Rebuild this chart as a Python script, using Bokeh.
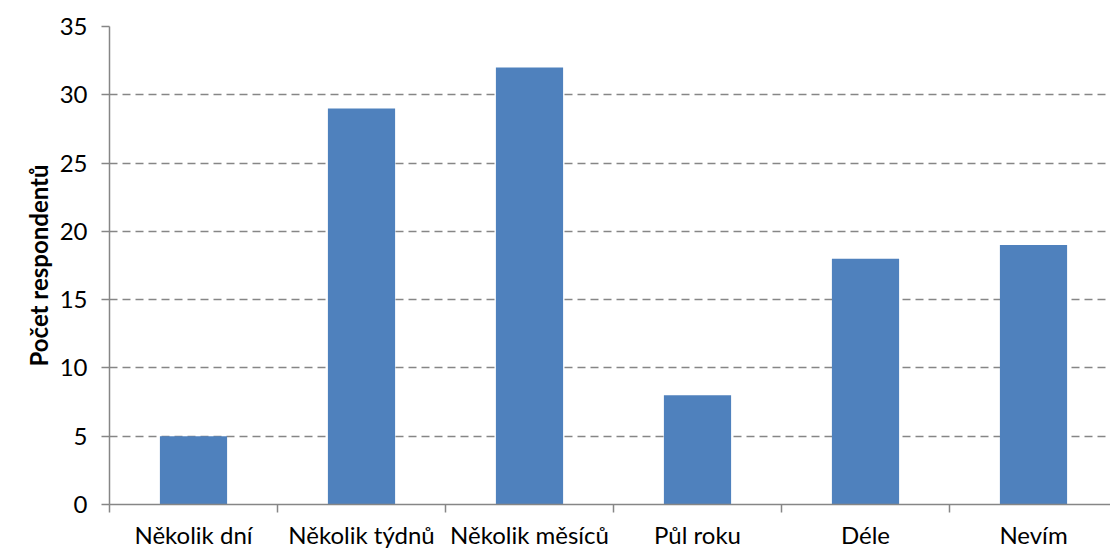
from bokeh.plotting import figure
from bokeh.models import Range1d, FixedTicker, ColumnDataSource, Title
from bokeh.embed import file_html
from bokeh.resources import INLINE

categories = ["Několik dní", "Několik týdnů", "Několik měsíců", "Půl roku", "Déle", "Nevím"]
values = [5, 29, 32, 8, 18, 19]
y_ticks = [0, 5, 10, 15, 20, 25, 30, 35]
y_title = "Počet respondentů"

xs = [i + 0.5 for i in range(len(categories))]
src = ColumnDataSource(dict(x=xs, top=values, cat=categories))

FONT = "Lato"
GRAY = "#868686"

p = figure(width=1110, height=551, output_backend="svg", toolbar_location=None,
           x_range=Range1d(0, 1001 / 168), y_range=Range1d(0, 35),
           min_border_left=109, min_border_top=26, min_border_bottom=47, min_border_right=0)
p.outline_line_color = None
p.background_fill_color = "white"

p.vbar(x="x", top="top", width=0.4, bottom=0, source=src, fill_color="#4F81BD", line_color=None)

# x axis
p.xaxis.ticker = FixedTicker(ticks=xs, minor_ticks=list(range(0, len(categories) + 1)))
p.xaxis.major_label_overrides = {x: c for x, c in zip(xs, categories)}
p.xaxis.major_tick_line_color = None
p.xaxis.minor_tick_line_color = GRAY
p.xaxis.minor_tick_line_width = 1.5
p.xaxis.minor_tick_in = 0
p.xaxis.minor_tick_out = 8
p.xaxis.axis_line_color = GRAY
p.xaxis.axis_line_width = 1.5
p.xaxis.major_label_text_font = FONT
p.xaxis.major_label_text_font_size = "24px"
p.xaxis.major_label_text_color = "black"
p.xaxis.major_label_standoff = 7

# y axis
p.yaxis.ticker = FixedTicker(ticks=y_ticks, minor_ticks=[])
p.yaxis.axis_line_color = GRAY
p.yaxis.axis_line_width = 1.5
p.yaxis.major_tick_line_color = GRAY
p.yaxis.major_tick_line_width = 1.5
p.yaxis.major_tick_in = 0
p.yaxis.major_tick_out = 8
p.yaxis.major_label_text_font = FONT
p.yaxis.major_label_text_font_size = "24px"
p.yaxis.major_label_text_color = "black"
p.yaxis.major_label_standoff = 14

# y axis title as a left-side title
p.add_layout(Title(text=y_title, align="center", offset=-24, standoff=8,
                   text_font=FONT, text_font_size="24px", text_font_style="bold",
                   text_color="black"), "left")

# grid
p.xgrid.grid_line_color = None
p.ygrid.grid_line_color = GRAY
p.ygrid.grid_line_dash = "8 5"
p.ygrid.grid_line_width = 1.4

open("out.html", "w").write(file_html(p, INLINE))
